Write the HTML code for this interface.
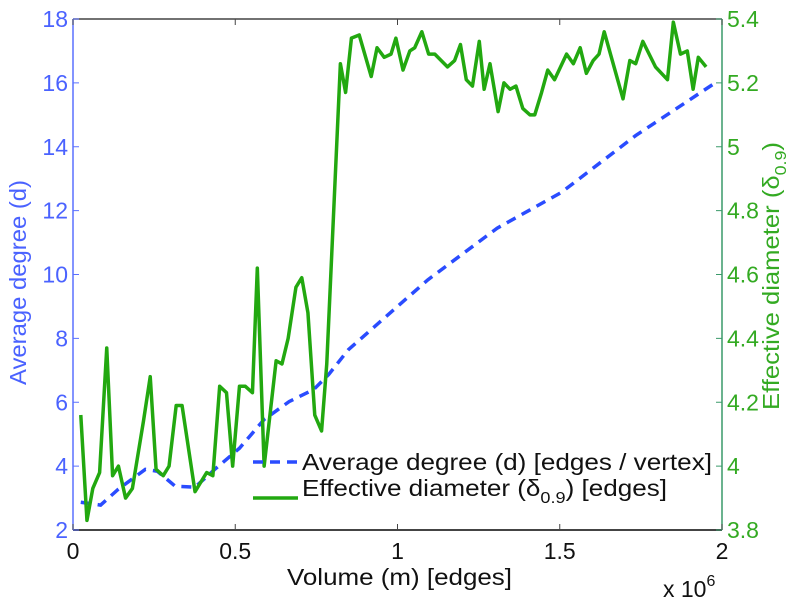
<!DOCTYPE html>
<html><head><meta charset="utf-8"><style>
body{margin:0;background:#fff;}
svg{display:block;font-family:"Liberation Sans",sans-serif;}
</style></head><body>
<svg id="chart" width="806" height="600" viewBox="0 0 806 600"></svg>
<script>
const xVals=[0.024,0.043,0.061,0.082,0.104,0.122,0.140,0.162,0.183,0.217,0.238,0.256,0.278,0.296,0.318,0.336,0.376,0.412,0.431,0.452,0.473,0.492,0.513,0.531,0.553,0.568,0.589,0.626,0.644,0.663,0.687,0.705,0.724,0.745,0.766,0.782,0.824,0.840,0.858,0.882,0.919,0.937,0.959,0.980,0.995,1.017,1.038,1.053,1.075,1.096,1.115,1.154,1.176,1.194,1.212,1.231,1.252,1.267,1.285,1.310,1.328,1.347,1.365,1.386,1.408,1.423,1.444,1.463,1.484,1.521,1.542,1.563,1.582,1.603,1.621,1.637,1.695,1.716,1.734,1.756,1.795,1.832,1.850,1.872,1.893,1.911,1.927,1.951];
const diamVals=[4.16,3.83,3.93,3.98,4.37,3.97,4.00,3.90,3.93,4.14,4.28,3.99,3.97,4.00,4.19,4.19,3.92,3.98,3.97,4.25,4.23,4.00,4.25,4.25,4.23,4.62,4.00,4.33,4.32,4.40,4.56,4.59,4.48,4.16,4.11,4.32,5.26,5.17,5.34,5.35,5.22,5.31,5.28,5.29,5.34,5.24,5.30,5.31,5.36,5.29,5.29,5.25,5.27,5.32,5.21,5.19,5.33,5.18,5.26,5.11,5.20,5.18,5.19,5.12,5.10,5.10,5.17,5.24,5.21,5.29,5.26,5.31,5.23,5.27,5.29,5.36,5.15,5.27,5.26,5.33,5.25,5.21,5.39,5.29,5.30,5.18,5.28,5.25];
const degX=[0.024,0.085,0.140,0.223,0.260,0.315,0.376,0.437,0.513,0.589,0.666,0.742,0.788,0.849,1.093,1.307,1.505,1.734,1.979];
const degVals=[2.87,2.78,3.28,3.90,3.84,3.37,3.34,3.90,4.56,5.46,6.02,6.40,6.87,7.65,9.83,11.45,12.57,14.35,16.0];
const xTicks=[0,0.5,1,1.5,2];
const xTickLabels=["0","0.5","1","1.5","2"];
const yLeftTicks=[2,4,6,8,10,12,14,16,18];
const yRightTicks=[3.8,4.0,4.2,4.4,4.6,4.8,5.0,5.2,5.4];
const yRightLabels=["3.8","4","4.2","4.4","4.6","4.8","5","5.2","5.4"];

const L=73,R=722,T=19,B=530;
const sx=v=>L+(v-0)/(2-0)*(R-L);
const syL=v=>B-(v-2)/(18-2)*(B-T);
const syR=v=>B-(v-3.8)/(5.4-3.8)*(B-T);
const NS="http://www.w3.org/2000/svg";
const svg=document.getElementById('chart');
function mk(tag,attrs,parent){const e=document.createElementNS(NS,tag);for(const k in attrs)e.setAttribute(k,attrs[k]);(parent||svg).appendChild(e);return e;}

const frame=mk('g',{});


mk('line',{x1:L,y1:T,x2:R,y2:T,stroke:'#444','stroke-width':1.5},frame);
mk('line',{x1:L,y1:B,x2:R,y2:B,stroke:'#444','stroke-width':2},frame);
mk('line',{x1:L,y1:T,x2:L,y2:B,stroke:'#5a70ff','stroke-width':1.5},frame);
mk('line',{x1:R,y1:T,x2:R,y2:B,stroke:'#3a9a6a','stroke-width':1.5},frame);

xTicks.forEach((v,i)=>{
  const x=sx(v);
  mk('line',{x1:x,y1:B,x2:x,y2:B-6,stroke:'#444','stroke-width':1});
  mk('line',{x1:x,y1:T,x2:x,y2:T+6,stroke:'#444','stroke-width':1});
  const t=mk('text',{x:x,y:B+29,'text-anchor':'middle','font-size':23,fill:'#111'});
  t.textContent=xTickLabels[i];
  
  
});
yLeftTicks.forEach(v=>{
  const y=syL(v);
  mk('line',{x1:L,y1:y,x2:L+6,y2:y,stroke:'#5a70ff','stroke-width':1});
  const t=mk('text',{x:L-5,y:y+8,'text-anchor':'end','font-size':23,fill:'#4a62ff'});
  t.textContent=String(v);
  
  
});
yRightTicks.forEach((v,i)=>{
  const y=syR(v);
  mk('line',{x1:R-6,y1:y,x2:R,y2:y,stroke:'#3a9a6a','stroke-width':1});
  const t=mk('text',{x:R+5,y:y+8,'text-anchor':'start','font-size':23,fill:'#33aa22'});
  t.textContent=yRightLabels[i];
  
  
});

const deg=mk('polyline',{points:degX.map((x,i)=>sx(x)+','+syL(degVals[i])).join(' '),fill:'none',stroke:'#2a4cff','stroke-width':3.5,'stroke-dasharray':'10,7'});


const diam=mk('polyline',{points:xVals.map((x,i)=>sx(x)+','+syR(diamVals[i])).join(' '),fill:'none',stroke:'#22a810','stroke-width':3.5,'stroke-linejoin':'round'});


</script>
<svg style="position:absolute;left:0;top:0" width="806" height="600">
  <g font-family="Liberation Sans, sans-serif" font-size="23" fill="#111">
    <line x1="253" y1="462" x2="298" y2="462" stroke="#2a4cff" stroke-width="3.5" stroke-dasharray="10,7"/>
    <text x="302" y="470" textLength="410" lengthAdjust="spacingAndGlyphs">Average degree (d) [edges / vertex]</text>
    <line x1="253" y1="498" x2="298" y2="498" stroke="#22a810" stroke-width="3.5"/>
    <text x="302" y="496" textLength="365" lengthAdjust="spacingAndGlyphs">Effective diameter (δ<tspan font-size="16" dy="7">0.9</tspan><tspan dy="-7">) [edges]</tspan></text>
  </g>
  <text x="287" y="585" textLength="225" lengthAdjust="spacingAndGlyphs" font-family="Liberation Sans, sans-serif" font-size="23" fill="#111">Volume (m) [edges]</text>
  <text x="663" y="597" font-family="Liberation Sans, sans-serif" font-size="23" fill="#111">x 10<tspan font-size="16" dy="-11">6</tspan></text>
  <text transform="translate(26,385) rotate(-90)" textLength="205" lengthAdjust="spacingAndGlyphs" font-family="Liberation Sans, sans-serif" font-size="23" fill="#4a62ff">Average degree (d)</text>
  <text transform="translate(779,410) rotate(-90)" textLength="268" lengthAdjust="spacingAndGlyphs" font-family="Liberation Sans, sans-serif" font-size="23" fill="#33aa22">Effective diameter (δ<tspan font-size="16" dy="7">0.9</tspan><tspan dy="-7">)</tspan></text>
</svg>
</body></html>
